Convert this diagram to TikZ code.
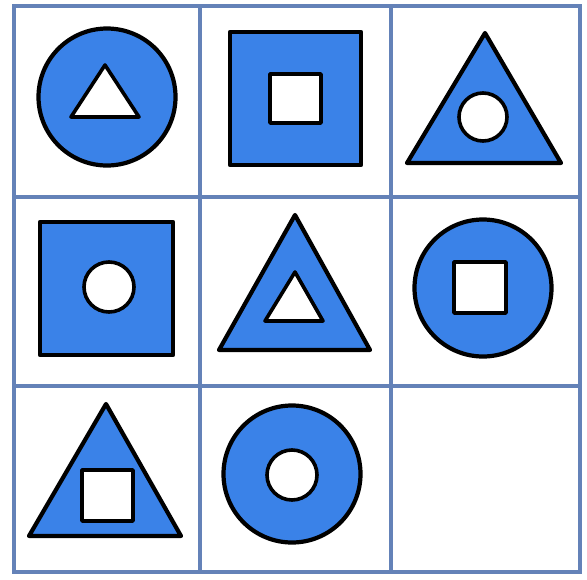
\documentclass[tikz,border=0pt]{standalone}
\usetikzlibrary{calc}
\definecolor{figBlue}{HTML}{3A82E8}
\definecolor{gridBlue}{HTML}{6482B8}

\begin{document}
\begin{tikzpicture}[x=1pt,y=-1pt,
  fig/.style={draw=black,fill=figBlue,line width=4.2pt,line join=round},
  hole/.style={draw=black,fill=white,line width=3.6pt,line join=round},
  gridline/.style={draw=gridBlue,line width=3.2pt}
]
  \useasboundingbox (0,0) rectangle (587,579);
  % grid
  \foreach \gx in {200,391} \draw[gridline] (\gx,6) -- (\gx,572);
  \foreach \gy in {197,386} \draw[gridline] (14,\gy) -- (580,\gy);
  \draw[gridline] (14,6) rectangle (580,572);
  % first row
  \draw[fig] (107,97) circle[radius=68.5];
  \draw[hole] (105,65) -- (139,117) -- (71,117) -- cycle;
  \draw[fig] (230,32) rectangle (361,165);
  \draw[hole] (270,74) rectangle (321,123);
  \draw[fig] (485,33) -- (561,163) -- (407,163) -- cycle;
  \draw[hole] (483,117) circle[radius=24];
  % second row
  \draw[fig] (40,222) rectangle (173,355);
  \draw[hole] (109,287) circle[radius=25];
  \draw[fig] (295,215) -- (370,350) -- (219,350) -- cycle;
  \draw[hole] (295,272) -- (323,321) -- (265,321) -- cycle;
  \draw[fig] (483,288) circle[radius=68.5];
  \draw[hole] (454,262) rectangle (506,313);
  % third row
  \draw[fig] (106,404) -- (181,536) -- (29,536) -- cycle;
  \draw[hole] (82,470) rectangle (133,521);
  \draw[fig] (292,474) circle[radius=68.5];
  \draw[hole] (292,475) circle[radius=25];
\end{tikzpicture}
\end{document}
